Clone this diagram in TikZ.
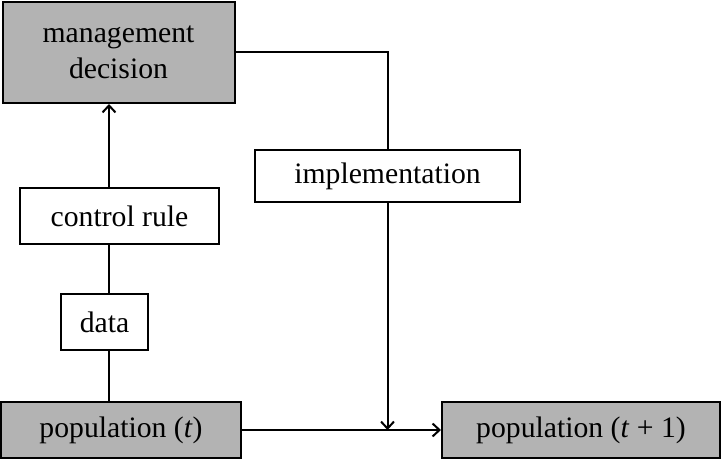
\documentclass[tikz,border=0pt]{standalone}
\usepackage{fontspec}
\setmainfont{Liberation Serif}
\usetikzlibrary{arrows.meta}
\definecolor{boxgray}{RGB}{179,179,179}
\tikzset{
    stage/.style={draw, line width=1pt, inner sep=0pt, align=center,
        fill=boxgray, font=\fontsize{14.85}{18}\selectfont},
    plain/.style={stage, fill=white},
}
\begin{document}
\begin{tikzpicture}[x=0.5pt, y=-0.5pt, line width=1pt,
    >={Straight Barb[length=3.5pt,width=6.5pt]}]
    \useasboundingbox (0,0) rectangle (722,459);

    \node[stage, minimum width=116pt, minimum height=50.5pt] (mgmt) at (118.5, 52.5){management\\decision};
    \node[plain, minimum width=132.5pt, minimum height=26pt] (impl) at (387.5, 176){implementation};
    \node[plain, minimum width=99.5pt, minimum height=28pt] (ctrl) at (119.5, 216){control rule};
    \node[plain, minimum width=43.5pt, minimum height=28pt] (data) at (104.5, 322){data};

    \node[stage, minimum width=120pt, minimum height=28pt] (popt) at (121, 430){population (\textit{t})};
    \node[stage, minimum width=139pt, minimum height=28pt] (popnext) at (581, 430){population (\textit{t} + 1)};

    \coordinate (feed) at (109, 0);
    \coordinate (join) at (impl.south |- popt.east);

    \draw (popt.north -| feed) -- (data.south -| feed);
    \draw (data.north -| feed) -- (ctrl.south -| feed);
    \draw[->] (ctrl.north -| feed) -- (mgmt.south -| feed);

    \draw (mgmt.east) -| (impl.north);
    \draw[->] (impl.south) -- (join);
    \draw[->] (popt.east) -- (popnext.west);
  \end{tikzpicture}
\end{document}
